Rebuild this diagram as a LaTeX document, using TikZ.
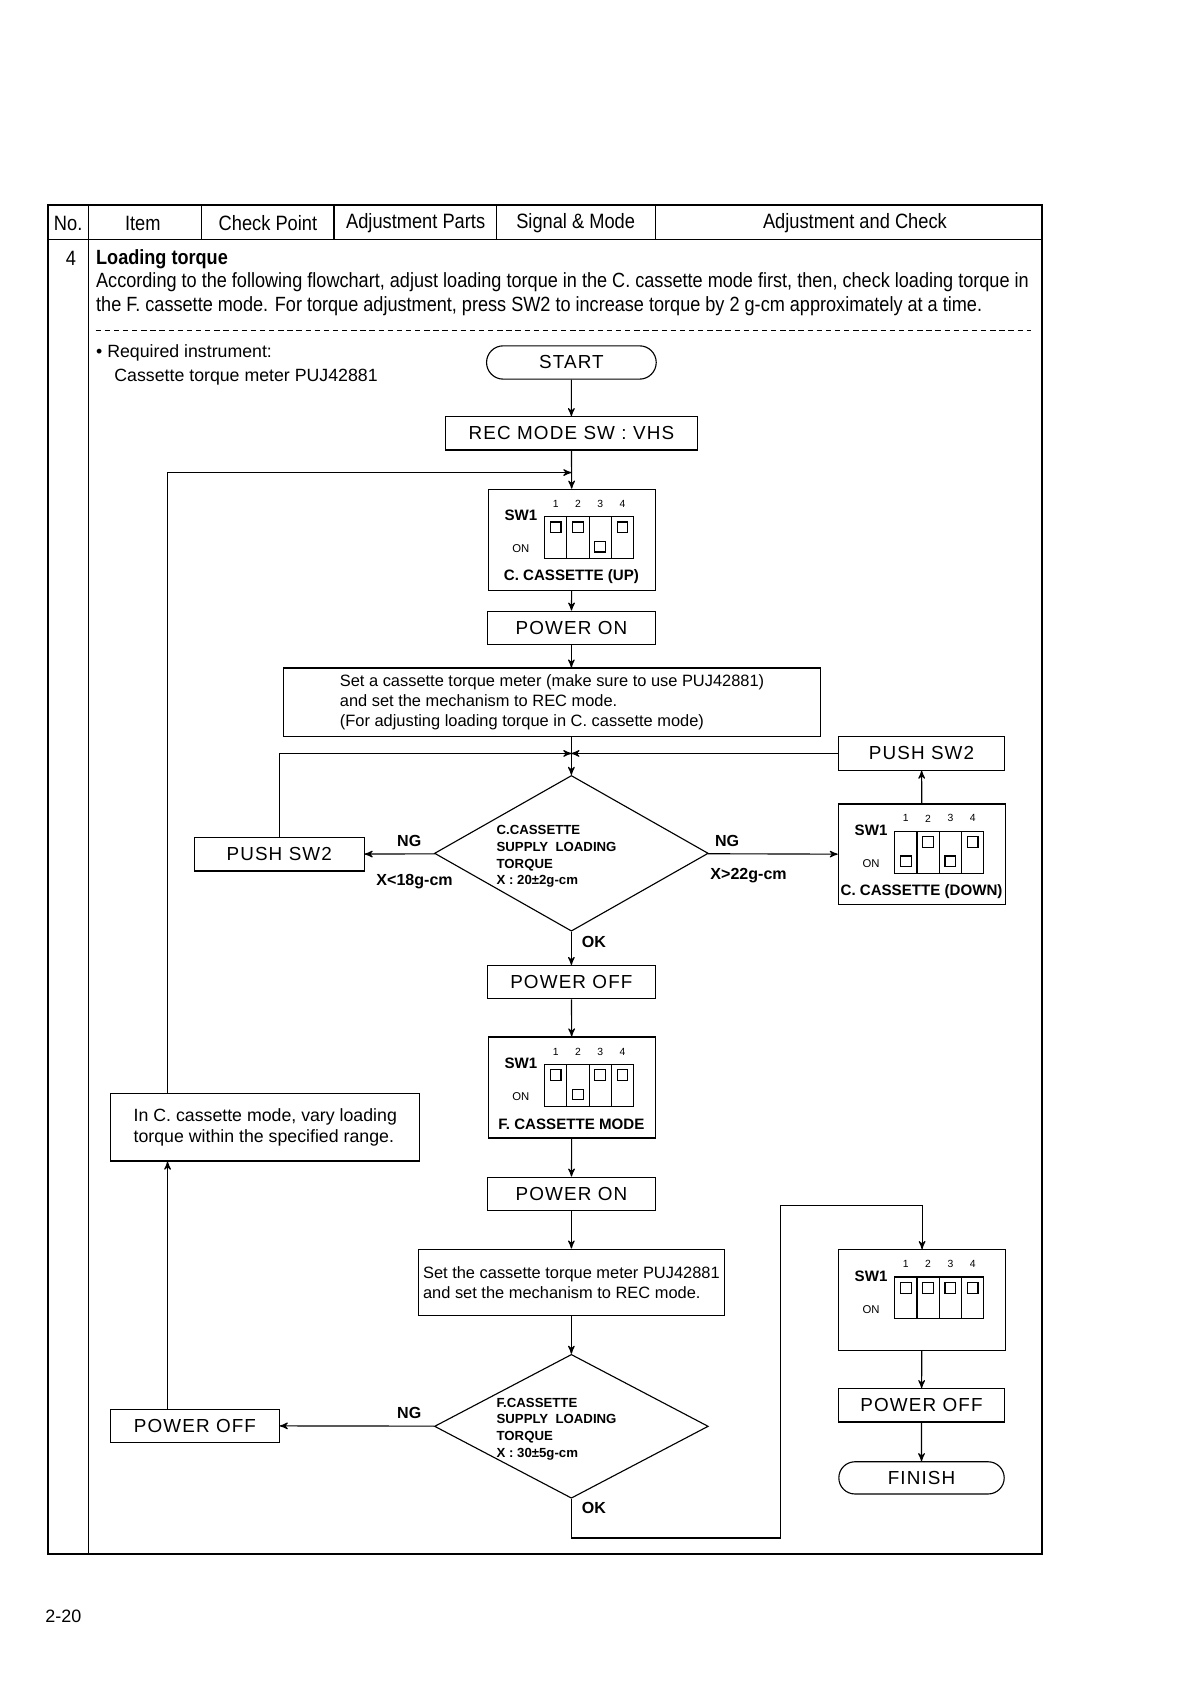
\documentclass[tikz,border=0pt]{standalone}
\usepackage{fontspec}
\setmainfont{Liberation Sans}
\newfontfamily\narrowfont[FakeStretch=0.88]{Liberation Sans}
\newfontfamily\wideboxfont[LetterSpace=6]{Liberation Sans}
\usetikzlibrary{arrows,shapes.geometric,shapes.misc}

% DIP switch panel: name, NW corner, knob rows, caption
\newcommand{\swpanel}[4]{%
  \begin{scope}[shift={#2}]
    \node[swframe,anchor=north west] (#1) at (0,0) {};
    \node[swlbl] at (31,25) {SW1};
    \node[onlbl] at (31,56) {ON};
    \draw (53,26) rectangle (136,65);
    \foreach \ky [count=\i] in {#3} {
      \pgfmathsetmacro{\kx}{53+20.75*(\i-0.5)}
      \node[numlbl] at (\kx,14) {\i};
      \ifnum\i<4 \draw (53+20.75*\i,26) -- (53+20.75*\i,65); \fi
      \draw (\kx-5,\ky-5) rectangle (\kx+5,\ky+5);
    }
    \node[caplbl] at (78,82) {#4};
  \end{scope}}

\begin{document}
\begin{tikzpicture}[x=0.02cm,y=-0.02cm,>=stealth',line width=0.6pt,
    box/.style={draw,minimum width=3.14cm,minimum height=0.62cm,inner sep=0pt,
                font=\wideboxfont\fontsize{10}{12}\selectfont},
    term/.style={box,rounded rectangle},
    ask/.style={draw,diamond,minimum width=5.1cm,minimum height=2.9cm,inner sep=0pt},
    note/.style={draw,inner sep=0pt,align=left,font=\fontsize{8.7}{10.6}\selectfont},
    swframe/.style={draw,minimum width=3.12cm,minimum height=1.88cm},
    swlbl/.style={font=\bfseries\fontsize{8}{9}\selectfont},
    onlbl/.style={font=\fontsize{6}{7}\selectfont},
    numlbl/.style={font=\fontsize{5.5}{6}\selectfont},
    caplbl/.style={font=\bfseries\fontsize{8}{9}\selectfont},
    asktxt/.style={align=left,anchor=west,font=\bfseries\fontsize{7}{8.8}\selectfont},
    flag/.style={font=\bfseries\fontsize{8.5}{10}\selectfont},
    head/.style={font=\narrowfont\fontsize{11}{13}\selectfont},
    body/.style={anchor=west,inner sep=0pt,font=\narrowfont\fontsize{10.9}{12.5}\selectfont},
    bodyb/.style={anchor=west,inner sep=0pt,font=\narrowfont\bfseries\fontsize{10.9}{12.5}\selectfont},
    plain/.style={anchor=west,inner sep=0pt,font=\fontsize{9.4}{11}\selectfont}]
  \useasboundingbox (0,0) rectangle (1108,1567);

  % table frame
  \draw[line width=0.9pt] (45,191) rectangle (970,1447);
  \draw[line width=0.9pt] (45,223) -- (970,223);
  \draw (82,191) -- (82,1447);
  \draw (188,191) -- (188,223);
  \draw (311,191) -- (311,223);
  \draw (462,191) -- (462,223);
  \draw (610,191) -- (610,223);
  \draw[dash pattern=on 0.1cm off 0.07cm] (89,308) -- (960,308);

  \node[head] (hNo) at (63.5,208) {No.};
  \node[head] (hItem) at (133,208) {Item};
  \node[head] (hCheck) at (249.5,208) {Check Point};
  \node[head] (hParts) at (387,208) {Adjustment Parts};
  \node[head] (hSig) at (536,208) {Signal \& Mode};
  \node[head] (hAdj) at (796,208) {Adjustment and Check};

  \node[head] (num) at (66,241) {4};
  \node[bodyb] (title) at (89,241) {Loading torque};
  \node[body] (l1) at (89,263) {According to the following flowchart, adjust loading torque in the C. cassette mode first, then, check loading torque in};
  \node[body] (l2) at (89,285) {the F. cassette mode. For torque adjustment, press SW2 to increase torque by 2 g-cm approximately at a time.};
  \node[plain] (req) at (89,329) {• Required instrument:};
  \node[plain] (meter) at (106,351) {Cassette torque meter PUJ42881};

  % flowchart
  \node[term,minimum width=3.16cm] (start) at (532,337.5) {START};
  \node[box,minimum width=4.7cm] (rec) at (532,403.5) {REC MODE SW : VHS};
  \swpanel{swU}{(454,455)}{36,36,54,36}{C. CASSETTE (UP)}
  \node[box] (pon1) at (532,584.5) {POWER ON};
  \node[note,minimum width=10cm,minimum height=1.28cm] (set1) at (514,654)
    {Set a cassette torque meter (make sure to use PUJ42881)\\and set the mechanism to REC mode.\\(For adjusting loading torque in C. cassette mode)};
  \node[box,minimum width=3.08cm] (psR) at (858,701.5) {PUSH SW2};
  \node[ask] (d1) at (532,794.5) {};
  \node[asktxt] (d1t) at (456,797.5) {C.CASSETTE\\SUPPLY\ \ LOADING\\TORQUE\\X : 20±2g-cm};
  \node[box,minimum width=3.16cm] (psL) at (260,795.5) {PUSH SW2};
  \swpanel{swD}{(780,748)}{54,36,54,36}{C. CASSETTE (DOWN)}
  \node[box] (poff1) at (532,914.5) {POWER OFF};
  \swpanel{swF}{(454,965)}{36,54,36,36}{F. CASSETTE MODE}
  \node[box] (pon2) at (532,1111.5) {POWER ON};
  \node[note,minimum width=5.7cm,minimum height=1.24cm] (set2) at (532,1194)
    {Set the cassette torque meter PUJ42881\\and set the mechanism to REC mode.};
  \node[ask,minimum height=2.68cm] (d2) at (532,1328) {};
  \node[asktxt] (d2t) at (456,1330.5) {F.CASSETTE\\SUPPLY\ \ LOADING\\TORQUE\\X : 30±5g-cm};
  \node[box] (poff2) at (181.5,1327.5) {POWER OFF};
  \node[note,minimum width=5.76cm,minimum height=1.26cm,font=\fontsize{9.4}{11.2}\selectfont] (vary) at (247,1049.5)
    {In C. cassette mode, vary loading\\torque within the specified range.};
  \swpanel{swE}{(780,1163)}{36,36,36,36}{}
  \node[box,minimum width=3.08cm] (poff3) at (858,1308.5) {POWER OFF};
  \node[term,minimum width=3.08cm,minimum height=0.6cm] (fin) at (858,1376) {FINISH};

  \node[flag] (ng1) at (381,783) {NG};
  \node[flag] (lt) at (386,821) {X<18g-cm};
  \node[flag] (ng2) at (677,783) {NG};
  \node[flag] (gt) at (697,815) {X>22g-cm};
  \node[flag] (ok1) at (553,877) {OK};
  \node[flag] (ng3) at (381,1316) {NG};
  \node[flag] (ok2) at (553,1404) {OK};

  \coordinate (jL) at (156,440);
  \coordinate (cA) at (727,1432);
  \coordinate (cB) at (727,1122);

  \path[->]
    (start) edge (rec)
    (rec) edge (swU)
    (swU) edge (pon1)
    (pon1) edge (pon1 |- set1.north)
    (d1 |- set1.south) edge (d1)
    (d1) edge (psL)
    (d1) edge (swD)
    (swD) edge (psR)
    (psR.west) edge (d1 |- psR.west)
    (d1) edge (poff1)
    (poff1) edge (swF)
    (swF) edge (pon2)
    (pon2) edge (set2)
    (set2) edge (d2)
    (d2) edge (poff2)
    (poff2.north -| jL) edge (vary.south -| jL)
    (swE) edge (poff3)
    (poff3) edge (fin);
  \draw[->] (psL) |- (d1 |- psR.west);
  \draw[->] (vary.north -| jL) |- (rec.south |- jL);
  \draw[->] (d2) |- (cA) -- (cB) -| (swE);

  \node[font=\fontsize{9.5}{11}\selectfont] (page) at (59,1505) {2-20};
\end{tikzpicture}
\end{document}
